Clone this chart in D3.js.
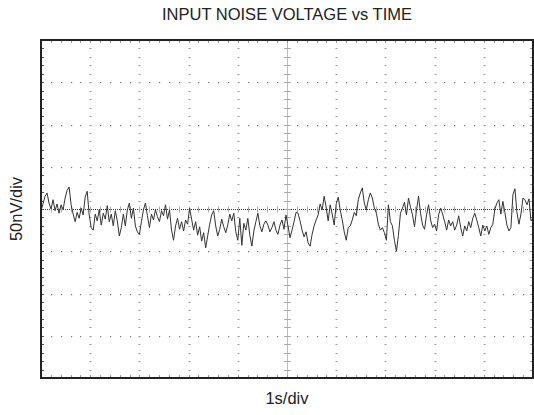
<!DOCTYPE html>
<html>
<head>
<meta charset="utf-8">
<script src="https://cdn.jsdelivr.net/npm/d3@7"></script>
<style>
    body { margin: 0; background: #fff; }
    svg text { font-family: "Liberation Sans", Arial, sans-serif; fill: #222; }
</style>
</head>
<body>
<script>
// ============================================================
// Input noise voltage vs time (scope capture style)
// 1s/div horizontal, 50nV/div vertical
// ============================================================

var chartTitle = "INPUT NOISE VOLTAGE vs TIME";
var xLabel = "1s/div";
var yLabel = "50nV/div";

// Time axis: 10 divisions of 1 s, voltage axis: 8 divisions of 50 nV
var timeSpan = [0, 10];          // s
var voltSpan = [-200, 200];      // nV
var timeDiv = 1;
var voltDiv = 50;

// Noise trace (nV), sampled evenly over the 10 s sweep
var noiseValues = [
    -2, 6, 15, 19, 7, 0, 11, -2, 6, -5, 5, -1, 13, 22, 26, 5,
    -6, -15, -4, -11, 1, -7, 14, 21, -7, -22, -25, -6, -14, -1, -19, -5,
    -12, 4, -15, -6, -20, -2, -14, -32, -22, -6, -20, -1, 7, -11, 1, -20,
    -27, -30, -15, -1, 7, -8, -22, -6, -13, -1, -9, -15, -2, -8, 5, -12,
    -1, -25, -37, -20, -11, -24, -15, -26, -13, -18, 1, -12, -25, -15, -31, -21,
    -38, -28, -46, -32, -18, -7, -2, -20, -32, -24, -12, -21, -28, -19, -6, -14,
    -5, -27, -37, -11, -43, -17, -25, -11, -31, -44, -26, -15, -5, -20, -27, -18,
    -14, -19, -27, -22, -15, -25, -30, -19, -13, -24, -7, -20, -34, -25, -15, -4,
    -5, -14, -25, -33, -27, -40, -44, -30, -20, -13, -7, 6, -1, 15, 2, -14,
    5, -6, -19, 6, 14, -1, -13, -27, -37, -22, -20, -13, -4, -8, 11, 19,
    25, 7, -1, 11, 19, 13, 1, -5, -18, -25, -22, -28, -37, 5, -15, -20,
    -37, -50, -31, -5, 1, 8, -7, 13, 2, -7, -21, -1, 15, -5, -19, -24,
    -7, 5, -13, -22, -18, -26, -7, 1, -6, -15, -25, -13, -20, -15, -25, -19,
    -8, -22, -32, -20, -26, -15, -22, -11, -5, -13, -22, -32, -19, -26, -20, -30,
    -22, -18, 0, 7, 11, -6, 9, -4, -19, -26, -22, 17, 24, -4, -18, -6,
    13, 11, 5, 12, -14, -11
];

var w = 534;
var h = 415;

var plotLeft = 41, plotRight = 533;
var plotTop = 40, plotBottom = 378;

var svg = d3.select("body").append("svg")
    .attr("width", w)
    .attr("height", h);

var x = d3.scaleLinear().domain(timeSpan).range([plotLeft, plotRight]);
var y = d3.scaleLinear().domain(voltSpan).range([plotBottom, plotTop]);

// Major and minor (1/5 div) positions
var xMajor = d3.range(timeSpan[0] + timeDiv, timeSpan[1], timeDiv);
var yMajor = d3.range(voltSpan[0] + voltDiv, voltSpan[1], voltDiv);
var xMinor = d3.range(timeSpan[0], timeSpan[1] + 1e-6, timeDiv / 5);
var yMinor = d3.range(voltSpan[0], voltSpan[1] + 1e-6, voltDiv / 5);
var xMid = (timeSpan[0] + timeSpan[1]) / 2;

var grid = svg.append("g").attr("class", "grid");

// Horizontal graticule: dots at minor x
yMajor.filter(function(v) { return v !== 0; }).forEach(function(v) {
    grid.selectAll(null).data(xMinor).enter().append("rect")
        .attr("x", function(t) { return Math.round(x(t)); })
        .attr("y", Math.round(y(v)))
        .attr("width", 1.2)
        .attr("height", 1.2)
        .attr("fill", "#777");
});

// Vertical graticule: short dashes at minor y
xMajor.filter(function(t) { return t !== xMid; }).forEach(function(t) {
    grid.selectAll(null).data(yMinor).enter().append("rect")
        .attr("x", Math.round(x(t)) - 0.5)
        .attr("y", function(v) { return Math.round(y(v)); })
        .attr("width", 2)
        .attr("height", 1)
        .attr("fill", "#999");
});

// Center horizontal: dense dotted line with ticks
grid.append("line")
    .attr("x1", plotLeft).attr("x2", plotRight)
    .attr("y1", Math.round(y(0)) + 0.5).attr("y2", Math.round(y(0)) + 0.5)
    .attr("stroke", "#333")
    .attr("stroke-width", 1)
    .attr("stroke-dasharray", "1,1");

grid.selectAll(null).data(xMinor).enter().append("line")
    .attr("x1", function(t) { return Math.round(x(t)) + 0.5; })
    .attr("x2", function(t) { return Math.round(x(t)) + 0.5; })
    .attr("y1", y(0) - 2.5).attr("y2", y(0) + 3.5)
    .attr("stroke", "#aaa");

// Center vertical: light line with ticks
grid.append("line")
    .attr("x1", Math.round(x(xMid)) + 0.5).attr("x2", Math.round(x(xMid)) + 0.5)
    .attr("y1", plotTop).attr("y2", plotBottom)
    .attr("stroke", "#bbb");

grid.selectAll(null).data(yMinor).enter().append("line")
    .attr("x1", x(xMid) - 3).attr("x2", x(xMid) + 4)
    .attr("y1", function(v) { return Math.round(y(v)) + 0.5; })
    .attr("y2", function(v) { return Math.round(y(v)) + 0.5; })
    .attr("stroke", "#aaa");

// Border ticks
grid.selectAll(null).data(xMinor).enter().append("line")
    .attr("x1", function(t) { return Math.round(x(t)) + 0.5; })
    .attr("x2", function(t) { return Math.round(x(t)) + 0.5; })
    .attr("y1", plotTop).attr("y2", plotTop + 3)
    .attr("stroke", "#999");
grid.selectAll(null).data(xMinor).enter().append("line")
    .attr("x1", function(t) { return Math.round(x(t)) + 0.5; })
    .attr("x2", function(t) { return Math.round(x(t)) + 0.5; })
    .attr("y1", plotBottom - 3).attr("y2", plotBottom)
    .attr("stroke", "#999");
grid.selectAll(null).data(yMinor).enter().append("line")
    .attr("x1", plotLeft).attr("x2", plotLeft + 3)
    .attr("y1", function(v) { return Math.round(y(v)) + 0.5; })
    .attr("y2", function(v) { return Math.round(y(v)) + 0.5; })
    .attr("stroke", "#555");
grid.selectAll(null).data(yMinor).enter().append("line")
    .attr("x1", plotRight - 3).attr("x2", plotRight)
    .attr("y1", function(v) { return Math.round(y(v)) + 0.5; })
    .attr("y2", function(v) { return Math.round(y(v)) + 0.5; })
    .attr("stroke", "#999");

// Trace
var n = noiseValues.length;
var line = d3.line()
    .x(function(d, i) { return x(timeSpan[0] + i * (timeSpan[1] - timeSpan[0]) / (n - 1)); })
    .y(function(d) { return y(d); });

svg.append("path")
    .datum(noiseValues)
    .attr("d", line)
    .attr("fill", "none")
    .attr("stroke", "#333")
    .attr("stroke-width", 1);

// Frame
svg.append("rect")
    .attr("x", plotLeft)
    .attr("y", plotTop)
    .attr("width", plotRight - plotLeft)
    .attr("height", plotBottom - plotTop)
    .attr("fill", "none")
    .attr("stroke", "#222")
    .attr("stroke-width", 2);

// Labels
svg.append("text")
    .attr("x", (plotLeft + plotRight) / 2)
    .attr("y", 20)
    .attr("text-anchor", "middle")
    .style("font-size", "16.5px")
    .text(chartTitle);

svg.append("text")
    .attr("x", (plotLeft + plotRight) / 2)
    .attr("y", 404)
    .attr("text-anchor", "middle")
    .style("font-size", "16.5px")
    .text(xLabel);

svg.append("text")
    .attr("transform", "translate(22," + (plotTop + plotBottom) / 2 + ") rotate(-90)")
    .attr("text-anchor", "middle")
    .style("font-size", "16.5px")
    .text(yLabel);
</script>
</body>
</html>
